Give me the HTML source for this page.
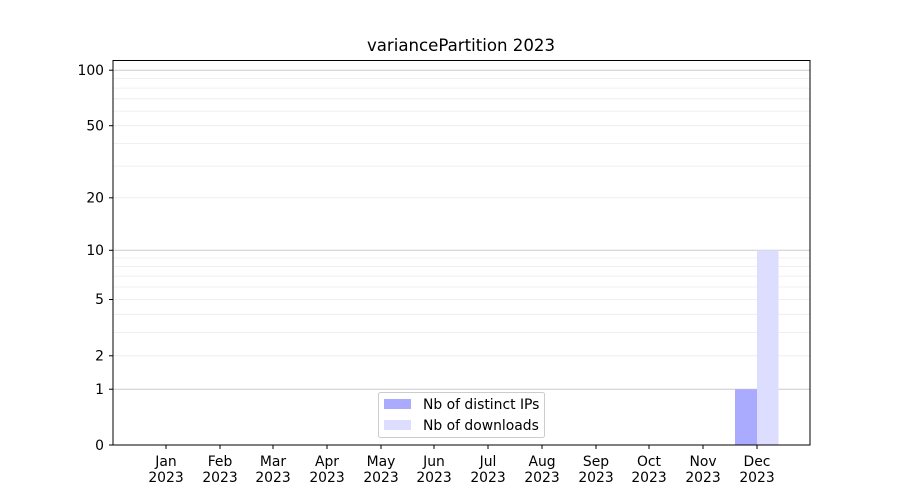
<!DOCTYPE html>
<html><head><meta charset="utf-8"><style>body{margin:0;background:#fff}svg{display:block}text{font-family:"DejaVu Sans","Liberation Sans",sans-serif;font-size:13.9px;fill:#000}</style></head>
<body>
<svg width="900" height="500" xmlns="http://www.w3.org/2000/svg">
<rect width="900" height="500" fill="#fff"/>
<g stroke="#ebebeb" stroke-width="0.8">
<line x1="113" x2="810" y1="355.8" y2="355.8"/><line x1="113" x2="810" y1="332.4" y2="332.4"/><line x1="113" x2="810" y1="314.3" y2="314.3"/><line x1="113" x2="810" y1="299.5" y2="299.5"/><line x1="113" x2="810" y1="287" y2="287"/><line x1="113" x2="810" y1="276.1" y2="276.1"/><line x1="113" x2="810" y1="266.6" y2="266.6"/><line x1="113" x2="810" y1="258" y2="258"/>
<line x1="113" x2="810" y1="197.8" y2="197.8"/><line x1="113" x2="810" y1="166.1" y2="166.1"/><line x1="113" x2="810" y1="143.4" y2="143.4"/><line x1="113" x2="810" y1="125.7" y2="125.7"/><line x1="113" x2="810" y1="111.1" y2="111.1"/><line x1="113" x2="810" y1="98.8" y2="98.8"/><line x1="113" x2="810" y1="88.1" y2="88.1"/><line x1="113" x2="810" y1="78.6" y2="78.6"/>
</g>
<g stroke="#cccccc" stroke-width="1">
<line x1="113" x2="810" y1="389.2" y2="389.2"/><line x1="113" x2="810" y1="250.3" y2="250.3"/><line x1="113" x2="810" y1="70.2" y2="70.2"/>
</g>
<rect x="735" y="389.2" width="22" height="55.8" fill="#aaaaff"/>
<rect x="757" y="250.3" width="21.5" height="194.7" fill="#ddddff"/>
<rect x="113" y="60.5" width="697" height="384.5" fill="none" stroke="#000" stroke-width="1"/>
<g stroke="#000" stroke-width="1">
<line x1="109" x2="113" y1="445" y2="445"/><line x1="109" x2="113" y1="389.2" y2="389.2"/><line x1="109" x2="113" y1="355.8" y2="355.8"/><line x1="109" x2="113" y1="299.5" y2="299.5"/><line x1="109" x2="113" y1="250.3" y2="250.3"/><line x1="109" x2="113" y1="197.8" y2="197.8"/><line x1="109" x2="113" y1="125.7" y2="125.7"/><line x1="109" x2="113" y1="70.2" y2="70.2"/>
<line x1="166" x2="166" y1="445" y2="449"/><line x1="220" x2="220" y1="445" y2="449"/><line x1="273" x2="273" y1="445" y2="449"/><line x1="327" x2="327" y1="445" y2="449"/><line x1="381" x2="381" y1="445" y2="449"/><line x1="434" x2="434" y1="445" y2="449"/><line x1="488" x2="488" y1="445" y2="449"/><line x1="542" x2="542" y1="445" y2="449"/><line x1="596" x2="596" y1="445" y2="449"/><line x1="649" x2="649" y1="445" y2="449"/><line x1="703" x2="703" y1="445" y2="449"/><line x1="757" x2="757" y1="445" y2="449"/>
</g>
<g text-anchor="end">
<text x="104" y="450">0</text><text x="104" y="394">1</text><text x="104" y="360.5">2</text><text x="104" y="304">5</text><text x="104" y="255">10</text><text x="104" y="202.5">20</text><text x="104" y="130.5">50</text><text x="104" y="75">100</text>
</g>
<g text-anchor="middle">
<text x="166" y="466">Jan</text><text x="166" y="482">2023</text>
<text x="220" y="466">Feb</text><text x="220" y="482">2023</text>
<text x="273" y="466">Mar</text><text x="273" y="482">2023</text>
<text x="327" y="466">Apr</text><text x="327" y="482">2023</text>
<text x="381" y="466">May</text><text x="381" y="482">2023</text>
<text x="434" y="466">Jun</text><text x="434" y="482">2023</text>
<text x="488" y="466">Jul</text><text x="488" y="482">2023</text>
<text x="542" y="466">Aug</text><text x="542" y="482">2023</text>
<text x="596" y="466">Sep</text><text x="596" y="482">2023</text>
<text x="649" y="466">Oct</text><text x="649" y="482">2023</text>
<text x="703" y="466">Nov</text><text x="703" y="482">2023</text>
<text x="757" y="466">Dec</text><text x="757" y="482">2023</text>
<text x="461" y="51" style="font-size:16.6px">variancePartition 2023</text>
</g>
<rect x="378.5" y="392.5" width="166" height="45" rx="2" fill="#fff" fill-opacity="0.8" stroke="#cccccc"/>
<rect x="384" y="399" width="27" height="10" fill="#aaaaff"/>
<rect x="384" y="420" width="27" height="10" fill="#ddddff"/>
<text x="423" y="409">Nb of distinct IPs</text>
<text x="423" y="430">Nb of downloads</text>
</svg>
</body></html>
